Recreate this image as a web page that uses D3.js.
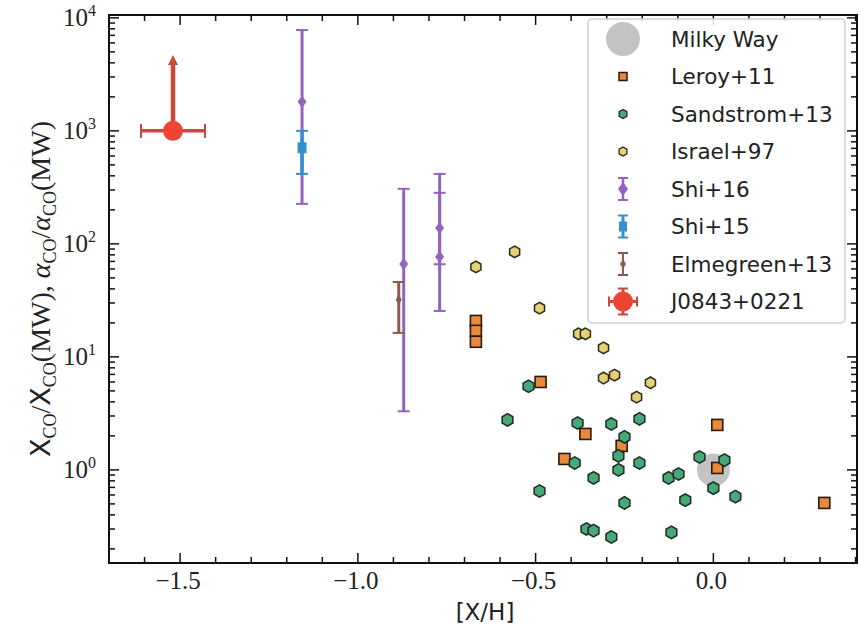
<!DOCTYPE html>
<html><head><meta charset="utf-8">
<script src="https://cdn.jsdelivr.net/npm/d3@7"></script>
<style>body{margin:0;background:#fff}svg{display:block}</style>
</head><body>
<svg id="c" width="866" height="634"></svg>
<script>
// ---- data ----
const xTicksMajor = [-1.5, -1.0, -0.5, 0.0];
const xTickLabels = ["\u22121.5", "\u22121.0", "\u22120.5", "0.0"];
const yTicksMajor = [1, 10, 100, 1000, 10000];
const yTickExp = ["0", "1", "2", "3", "4"];

const mwX = [0.0], mwY = [1.0];
const leroyX = [-0.668, -0.668, -0.668, -0.486, -0.36, -0.258, -0.419, 0.011, 0.011, 0.312];
const leroyY = [20.8, 17.0, 13.6, 6.0, 2.08, 1.63, 1.25, 2.5, 1.04, 0.51];
const sandX = [-0.52, -0.579, -0.382, -0.287, -0.208, -0.25, -0.267, -0.39, -0.208, -0.267, -0.337, -0.126, -0.098, -0.039, -0.489, -0.25, -0.079, -0.357, -0.337, -0.287, -0.118, 0.031, 0.0, 0.062];
const sandY = [5.5, 2.77, 2.6, 2.55, 2.83, 1.96, 1.33, 1.15, 1.15, 1.0, 0.85, 0.85, 0.92, 1.3, 0.65, 0.51, 0.54, 0.30, 0.29, 0.255, 0.28, 1.22, 0.69, 0.58];
const israelX = [-0.559, -0.668, -0.489, -0.379, -0.36, -0.309, -0.309, -0.278, -0.177, -0.216];
const israelY = [85, 62.5, 27, 16, 16, 12, 6.5, 6.9, 5.9, 4.4];
const shi16X = [-1.157, -0.871, -0.77, -0.77];
const shi16Y = [1808, 66.5, 138, 77];
const shi16Lo = [226, 3.3, 66, 25.5];
const shi16Hi = [7800, 307, 283, 416];
const shi15X = [-1.157], shi15Y = [708], shi15Lo = [416], shi15Hi = [1000];
const elmX = [-0.885], elmY = [32], elmLo = [16.3], elmHi = [46];
const jX = [-1.52], jY = [1000], jXerr = [0.09], jUpper = [4700];

const legendLabels = ["Milky Way", "Leroy+11", "Sandstrom+13", "Israel+97", "Shi+16", "Shi+15", "Elmegreen+13", "J0843+0221"];

// ---- styles ----
const C = {
  mw: "#bdbdbd", leroy: "#e98a3b", leroyS: "#2a1a0c",
  sand: "#48a877", sandS: "#1b2a22", isr: "#e4d075", isrS: "#2b2a18",
  shi16: "#9563be", shi15: "#3391d2", elm: "#8c5a4b", j: "#ee4434", jE: "#cf463d"
};

const svg = d3.select("#c");
const L = 109, R = 857, T = 15, B = 563;
const x = d3.scaleLinear().domain([-1.7, 0.404]).range([L, R]);
const y = d3.scaleLog().domain([0.15, 1.06e4]).range([B, T]);

function hexPath(r) {
  const pts = d3.range(6).map(i => { const a = Math.PI / 2 + i * Math.PI / 3; return [r * Math.cos(a), -r * Math.sin(a)]; });
  return "M" + pts.map(p => p.join(",")).join("L") + "Z";
}

const plot = svg.append("g");
svg.append("clipPath").attr("id", "pc").append("rect").attr("x", L).attr("y", T).attr("width", R - L).attr("height", B - T);
plot.attr("clip-path", "url(#pc)");

// Milky Way
plot.selectAll(".mw").data(mwX).join("circle").attr("cx", d => x(d)).attr("cy", (d, i) => y(mwY[i])).attr("r", 16.5).attr("fill", C.mw).attr("opacity", 0.9);

// Leroy
plot.selectAll(".le").data(leroyX).join("rect")
  .attr("x", d => x(d) - 5.5).attr("y", (d, i) => y(leroyY[i]) - 5.5).attr("width", 11).attr("height", 11)
  .attr("fill", C.leroy).attr("stroke", C.leroyS).attr("stroke-width", 1.6);

// Sandstrom
plot.selectAll(".sa").data(sandX).join("path").attr("d", hexPath(6.2))
  .attr("transform", (d, i) => `translate(${x(d)},${y(sandY[i])})`)
  .attr("fill", C.sand).attr("stroke", C.sandS).attr("stroke-width", 1.5);

// Israel
plot.selectAll(".is").data(israelX).join("path").attr("d", hexPath(5.8))
  .attr("transform", (d, i) => `translate(${x(d)},${y(israelY[i])})`)
  .attr("fill", C.isr).attr("stroke", C.isrS).attr("stroke-width", 1.5);

function errbar(g, xs, ys, lo, hi, color, lw, cap) {
  xs.forEach((xv, i) => {
    const cx = x(xv);
    g.append("line").attr("x1", cx).attr("x2", cx).attr("y1", y(lo[i])).attr("y2", y(hi[i])).attr("stroke", color).attr("stroke-width", lw);
    [lo[i], hi[i]].forEach(v => g.append("line").attr("x1", cx - cap).attr("x2", cx + cap).attr("y1", y(v)).attr("y2", y(v)).attr("stroke", color).attr("stroke-width", 2));
  });
}
function diamond(g, cx, cy, w, h, color) {
  g.append("path").attr("d", `M${cx},${cy - h}L${cx + w},${cy}L${cx},${cy + h}L${cx - w},${cy}Z`).attr("fill", color);
}

// Shi+16
errbar(plot, shi16X, shi16Y, shi16Lo, shi16Hi, C.shi16, 3, 6);
shi16X.forEach((xv, i) => diamond(plot, x(xv), y(shi16Y[i]), 4.5, 6, C.shi16));
// Shi+15
errbar(plot, shi15X, shi15Y, shi15Lo, shi15Hi, C.shi15, 3.5, 6);
shi15X.forEach((xv, i) => plot.append("rect").attr("x", x(xv) - 4.5).attr("y", y(shi15Y[i]) - 5.5).attr("width", 9).attr("height", 11).attr("fill", C.shi15));
// Elmegreen
errbar(plot, elmX, elmY, elmLo, elmHi, C.elm, 3, 6);
elmX.forEach((xv, i) => diamond(plot, x(xv), y(elmY[i]), 3, 5, C.elm));

// J0843
jX.forEach((xv, i) => {
  const cx = x(xv), cy = y(jY[i]);
  const x0 = x(xv - jXerr[i]), x1 = x(xv + jXerr[i]);
  plot.append("line").attr("x1", x0).attr("x2", x1).attr("y1", cy).attr("y2", cy).attr("stroke", C.jE).attr("stroke-width", 3.5);
  [x0, x1].forEach(xx => plot.append("line").attr("x1", xx).attr("x2", xx).attr("y1", cy - 7).attr("y2", cy + 7).attr("stroke", C.jE).attr("stroke-width", 2));
  const ty = y(jUpper[i]);
  plot.append("line").attr("x1", cx).attr("x2", cx).attr("y1", cy).attr("y2", ty + 8).attr("stroke", C.jE).attr("stroke-width", 4.5);
  plot.append("path").attr("d", `M${cx - 5},${ty + 10}L${cx},${ty}L${cx + 5},${ty + 10}Z`).attr("fill", C.jE);
  plot.append("circle").attr("cx", cx).attr("cy", cy).attr("r", 10).attr("fill", C.j);
});

// ---- axes frame & ticks ----
const ax = svg.append("g");
ax.append("rect").attr("x", L).attr("y", T).attr("width", R - L).attr("height", B - T).attr("fill", "none").attr("stroke", "#111").attr("stroke-width", 2);

const xMinor = d3.range(-17, 5).map(v => v / 10).filter(v => !xTicksMajor.some(m => Math.abs(m - v) < 1e-9));
function xt(v, len) {
  const px = x(v);
  ax.append("line").attr("x1", px).attr("x2", px).attr("y1", B).attr("y2", B - len).attr("stroke", "#111").attr("stroke-width", 1.5);
  ax.append("line").attr("x1", px).attr("x2", px).attr("y1", T).attr("y2", T + len).attr("stroke", "#111").attr("stroke-width", 1.5);
}
xTicksMajor.forEach(v => xt(v, 10));
xMinor.filter(v => x(v) > L + 1 && x(v) < R - 1).forEach(v => xt(v, 6));

const yMinor = [];
[-1, 0, 1, 2, 3, 4].forEach(e => d3.range(2, 10).forEach(m => { const v = m * Math.pow(10, e); if (v >= 0.15 && v <= 1.06e4) yMinor.push(v); }));
function yt(v, len) {
  const py = y(v);
  ax.append("line").attr("x1", L).attr("x2", L + len).attr("y1", py).attr("y2", py).attr("stroke", "#111").attr("stroke-width", 1.5);
  ax.append("line").attr("x1", R).attr("x2", R - len).attr("y1", py).attr("y2", py).attr("stroke", "#111").attr("stroke-width", 1.5);
}
yTicksMajor.forEach(v => yt(v, 10));
yMinor.forEach(v => yt(v, 6));

// tick labels
const serif = "'Liberation Serif', 'DejaVu Serif', serif";
xTicksMajor.forEach((v, i) => {
  ax.append("text").attr("x", x(v) - 2).attr("y", 589).attr("text-anchor", "middle").attr("font-family", serif).attr("font-size", 25).attr("fill", "#222").text(xTickLabels[i]);
});
yTicksMajor.forEach((v, i) => {
  const t = ax.append("text").attr("x", 96).attr("y", y(v) + 8).attr("text-anchor", "end").attr("font-family", serif).attr("font-size", 25).attr("fill", "#222");
  t.append("tspan").text("10");
  t.append("tspan").attr("dy", -10).attr("font-size", 16).text(yTickExp[i]);
});

// axis labels
const sans = "'DejaVu Sans', sans-serif";
ax.append("text").attr("x", 485).attr("y", 620).attr("text-anchor", "middle").attr("font-family", sans).attr("font-size", 23).attr("fill", "#222").text("[X/H]");

const yl = ax.append("text").attr("transform", `translate(50,${(T + B) / 2}) rotate(-90)`).attr("text-anchor", "middle").attr("font-family", serif).attr("font-size", 28).attr("fill", "#222");
function seg(txt, opts) { const s = yl.append("tspan").text(txt); if (opts) Object.entries(opts).forEach(([k, v]) => s.attr(k, v)); return s; }
seg("X", { "font-family": sans, "font-size": 27 });
seg("CO", { "font-size": 18, dy: 6 });
seg("/", { dy: -6 });
seg("X", { "font-family": sans, "font-size": 27 });
seg("CO", { "font-size": 18, dy: 6 });
seg("(MW), ", { dy: -6 });
seg("\u03b1", { "font-style": "italic" });
seg("CO", { "font-size": 18, dy: 6 });
seg("/", { dy: -6 });
seg("\u03b1", { "font-style": "italic" });
seg("CO", { "font-size": 18, dy: 6 });
seg("(MW)", { dy: -6 });

// ---- legend ----
const lg = svg.append("g");
lg.append("rect").attr("x", 588).attr("y", 19).attr("width", 257).attr("height", 304).attr("rx", 4).attr("fill", "#fff").attr("fill-opacity", 0.85).attr("stroke", "#cfcfcf").attr("stroke-width", 1.5);
const ly0 = 39, ldy = 37.5, lmx = 623, ltx = 671;
legendLabels.forEach((lab, i) => {
  lg.append("text").attr("x", ltx).attr("y", ly0 + i * ldy).attr("dy", "0.36em").attr("font-family", sans).attr("font-size", 21.5).attr("fill", "#222").text(lab);
});
function lgErr(cy, color, lw) {
  lg.append("line").attr("x1", lmx).attr("x2", lmx).attr("y1", cy - 11).attr("y2", cy + 11).attr("stroke", color).attr("stroke-width", lw);
  [cy - 11, cy + 11].forEach(v => lg.append("line").attr("x1", lmx - 5).attr("x2", lmx + 5).attr("y1", v).attr("y2", v).attr("stroke", color).attr("stroke-width", 2));
}
lg.append("circle").attr("cx", lmx).attr("cy", ly0).attr("r", 17).attr("fill", C.mw).attr("opacity", 0.9);
lg.append("rect").attr("x", lmx - 4).attr("y", ly0 + ldy - 4).attr("width", 8).attr("height", 8).attr("fill", C.leroy).attr("stroke", C.leroyS).attr("stroke-width", 1.5);
lg.append("path").attr("d", hexPath(4.5)).attr("transform", `translate(${lmx},${ly0 + 2 * ldy})`).attr("fill", C.sand).attr("stroke", C.sandS).attr("stroke-width", 1.3);
lg.append("path").attr("d", hexPath(4.5)).attr("transform", `translate(${lmx},${ly0 + 3 * ldy})`).attr("fill", C.isr).attr("stroke", C.isrS).attr("stroke-width", 1.3);
lgErr(ly0 + 4 * ldy, C.shi16, 2.5);
lg.append("path").attr("d", `M${lmx},${ly0 + 4 * ldy - 7}L${lmx + 5},${ly0 + 4 * ldy}L${lmx},${ly0 + 4 * ldy + 7}L${lmx - 5},${ly0 + 4 * ldy}Z`).attr("fill", C.shi16);
lgErr(ly0 + 5 * ldy, C.shi15, 3);
lg.append("rect").attr("x", lmx - 4).attr("y", ly0 + 5 * ldy - 5).attr("width", 8).attr("height", 10).attr("fill", C.shi15);
lgErr(ly0 + 6 * ldy, C.elm, 2);
lg.append("path").attr("d", `M${lmx},${ly0 + 6 * ldy - 5}L${lmx + 3},${ly0 + 6 * ldy}L${lmx},${ly0 + 6 * ldy + 5}L${lmx - 3},${ly0 + 6 * ldy}Z`).attr("fill", C.elm);
const jy = ly0 + 7 * ldy;
lg.append("line").attr("x1", lmx - 14).attr("x2", lmx + 14).attr("y1", jy).attr("y2", jy).attr("stroke", C.jE).attr("stroke-width", 3);
lg.append("line").attr("x1", lmx).attr("x2", lmx).attr("y1", jy - 13).attr("y2", jy + 13).attr("stroke", C.jE).attr("stroke-width", 3);
[[lmx - 14, jy - 5, lmx - 14, jy + 5], [lmx + 14, jy - 5, lmx + 14, jy + 5], [lmx - 5, jy - 13, lmx + 5, jy - 13], [lmx - 5, jy + 13, lmx + 5, jy + 13]].forEach(a =>
  lg.append("line").attr("x1", a[0]).attr("y1", a[1]).attr("x2", a[2]).attr("y2", a[3]).attr("stroke", C.jE).attr("stroke-width", 2));
lg.append("circle").attr("cx", lmx).attr("cy", jy).attr("r", 10).attr("fill", C.j);
</script>
</body></html>
